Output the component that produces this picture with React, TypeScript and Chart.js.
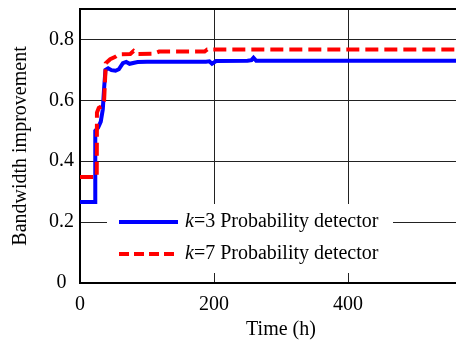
import { useEffect, useRef } from 'react';
import { Chart, registerables } from 'chart.js';

Chart.register(...registerables);

// k=3 Probability detector
const timeK3 = [0, 22.5, 22.8, 27, 31, 34, 36, 38, 42, 47, 53, 58, 64, 69, 74, 86, 100, 150, 188, 193, 197, 203, 250, 256, 259, 263, 600];
const bwK3 = [0.266, 0.266, 0.5, 0.51, 0.53, 0.57, 0.64, 0.7, 0.705, 0.699, 0.697, 0.702, 0.722, 0.726, 0.72, 0.726, 0.727, 0.727, 0.727, 0.728, 0.72, 0.729, 0.73, 0.732, 0.74, 0.73, 0.73];

// k=7 Probability detector
const timeK7 = [0, 25, 25.3, 28, 32, 36, 38.5, 45, 52, 58, 75, 80, 85, 110, 118, 186, 190, 600];
const bwK7 = [0.348, 0.348, 0.56, 0.575, 0.58, 0.6, 0.722, 0.735, 0.742, 0.751, 0.752, 0.762, 0.752, 0.753, 0.76, 0.76, 0.767, 0.767];

const xTicks = [0, 200, 400, 600];
const yTicks = [0, 0.2, 0.4, 0.6, 0.8];
const seriesK = ['k', 'k'];
const seriesRest = ['=3 Probability detector', '=7 Probability detector'];
const seriesColors = ['#0000ff', '#ff0000'];

const FONT = "'Liberation Serif', 'Times New Roman', serif";
const FS = 20;

const framePlugin = {
  id: 'frame',
  afterDatasetsDraw(chart: any) {
    const { ctx, chartArea } = chart;
    const { left, right, top, bottom } = chartArea;
    ctx.save();
    // top border
    ctx.strokeStyle = '#000';
    ctx.lineWidth = 2;
    ctx.beginPath();
    ctx.moveTo(left, top);
    ctx.lineTo(right + 20, top);
    ctx.stroke();

    // legend box
    const bx = left + 27;
    const by = bottom - 79;
    ctx.fillStyle = '#fff';
    ctx.fillRect(bx, by, 286, 69);
    const rows = [by + 18, by + 50];
    for (let i = 0; i < 2; i++) {
      const y = rows[i];
      ctx.strokeStyle = seriesColors[i];
      ctx.lineWidth = 4;
      ctx.setLineDash(i === 1 ? [10, 5] : []);
      ctx.beginPath();
      ctx.moveTo(bx + 12, y);
      ctx.lineTo(bx + 71, y);
      ctx.stroke();
      ctx.setLineDash([]);
      ctx.fillStyle = '#000';
      ctx.textBaseline = 'middle';
      ctx.textAlign = 'left';
      ctx.font = `italic ${FS}px ${FONT}`;
      const tx = bx + 78;
      ctx.fillText(seriesK[i], tx, y);
      const kw = ctx.measureText(seriesK[i]).width;
      ctx.font = `${FS}px ${FONT}`;
      ctx.fillText(seriesRest[i], tx + kw, y);
    }
    ctx.restore();
  },
};

export default function App() {
  const ref = useRef<HTMLCanvasElement>(null);
  useEffect(() => {
    if (!ref.current) return;
    const chart = new Chart(ref.current, {
      type: 'line',
      data: {
        datasets: [
          {
            label: 'k=7 Probability detector',
            data: timeK7.map((t, i) => ({ x: t, y: bwK7[i] })),
            borderColor: seriesColors[1],
            borderWidth: 4,
            borderDash: [13, 6],
            pointRadius: 0,
            tension: 0,
            fill: false,
          },
          {
            label: 'k=3 Probability detector',
            data: timeK3.map((t, i) => ({ x: t, y: bwK3[i] })),
            borderColor: seriesColors[0],
            borderWidth: 4,
            pointRadius: 0,
            tension: 0,
            fill: false,
          },
        ],
      },
      options: {
        animation: false,
        responsive: false,
        layout: { padding: { left: 0, right: 18, top: 9, bottom: 0 } },
        plugins: {
          legend: { display: false },
          tooltip: { enabled: false },
        },
        scales: {
          x: {
            type: 'linear',
            min: 0,
            max: 600,
            afterBuildTicks: (s: any) => {
              s.ticks = xTicks.map((v) => ({ value: v }));
            },
            afterFit: (s: any) => {
              s.height = 62;
              s.paddingLeft = 0;
              s.paddingRight = 0;
            },
            grid: { color: '#222', lineWidth: 1, drawTicks: false },
            border: { color: '#000', width: 2 },
            ticks: {
              padding: 10,
              color: '#000',
              maxRotation: 0,
              font: { family: FONT, size: FS },
              callback: (v: any) => String(v),
            },
            title: {
              display: true,
              text: 'Time (h)',
              color: '#000',
              font: { family: FONT, size: FS },
              padding: { top: 0, bottom: 3 },
            },
          },
          y: {
            type: 'linear',
            min: 0,
            max: 0.9,
            afterBuildTicks: (s: any) => {
              s.ticks = yTicks.map((v) => ({ value: v }));
            },
            afterFit: (s: any) => {
              s.width = 80;
              s.paddingTop = 0;
              s.paddingBottom = 0;
            },
            grid: { color: '#222', lineWidth: 1, drawTicks: false },
            border: { color: '#000', width: 2 },
            ticks: {
              padding: 6,
              crossAlign: 'center',
              color: '#000',
              font: { family: FONT, size: FS },
              callback: (v: any) => (v === 0 ? '0' : Number(v).toFixed(1)),
            },
            title: {
              display: true,
              text: 'Bandwidth improvement',
              color: '#000',
              font: { family: FONT, size: FS },
              padding: { top: 9, bottom: 0 },
            },
          },
        },
      },
      plugins: [framePlugin],
    });
    return () => chart.destroy();
  }, []);

  return (
    <div
      style={{
        position: 'fixed',
        left: 0,
        top: 0,
        width: 456,
        height: 345,
        overflow: 'hidden',
        background: '#fff',
      }}
    >
      <canvas ref={ref} width={500} height={345} style={{ display: 'block' }} />
    </div>
  );
}
